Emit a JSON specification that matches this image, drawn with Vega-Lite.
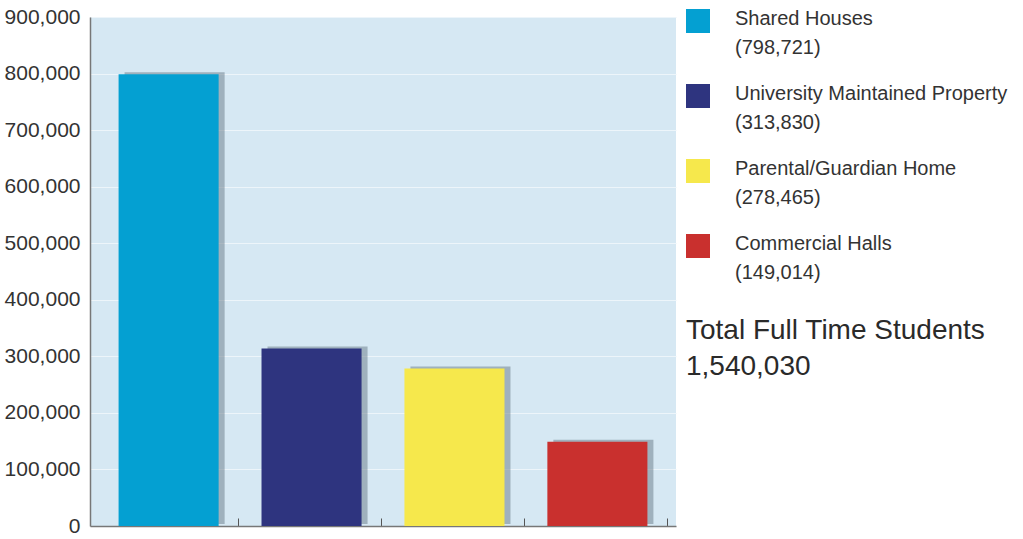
{
  "$schema": "https://vega.github.io/schema/vega-lite/v6.json",
  "width": 586,
  "height": 509,
  "padding": {"left": 4, "top": 6, "right": 0, "bottom": 0},
  "background": "white",
  "config": {
    "view": {"fill": "#D6E8F3", "stroke": null},
    "font": "Liberation Sans"
  },
  "data": {
    "values": [
      {"type": "Shared Houses", "students": 798721},
      {"type": "University Maintained Property", "students": 313830},
      {"type": "Parental/Guardian Home", "students": 278465},
      {"type": "Commercial Halls", "students": 149014}
    ]
  },
  "transform": [
    {"calculate": "datum.type + '|(' + format(datum.students, ',') + ')'", "as": "entry"}
  ],
  "encoding": {
    "x": {
      "field": "type",
      "type": "nominal",
      "sort": null,
      "scale": {"paddingInner": 0.3, "paddingOuter": 0.2},
      "axis": {
        "title": null,
        "labels": false,
        "ticks": true,
        "tickSize": -8,
        "tickColor": "#555",
        "bandPosition": 1.2,
        "domainColor": "#777",
        "domainWidth": 1.5,
        "grid": false
      }
    },
    "y": {
      "field": "students",
      "type": "quantitative",
      "scale": {"domain": [0, 900000]},
      "axis": {
        "title": null,
        "values": [0, 100000, 200000, 300000, 400000, 500000, 600000, 700000, 800000, 900000],
        "format": ",d",
        "labelOverlap": false,
        "ticks": false,
        "labelPadding": 10,
        "labelFontSize": 21,
        "labelColor": "#333333",
        "domainColor": "#777",
        "domainWidth": 1.5,
        "grid": true,
        "gridColor": "#EDF5FA",
        "gridWidth": 1.2
      }
    }
  },
  "layer": [
    {
      "mark": {"type": "bar", "color": "#73848f", "opacity": 0.55, "xOffset": 6, "yOffset": -2}
    },
    {
      "mark": {"type": "bar"},
      "encoding": {
        "color": {
          "field": "entry",
          "type": "nominal",
          "sort": null,
          "scale": {"range": ["#04A0D2", "#2E347F", "#F6E84C", "#C9302E"]},
          "legend": {
            "orient": "none",
            "legendX": 596,
            "legendY": -8,
            "title": ["Total Full Time Students", "1,540,030"],
            "titleOrient": "bottom",
            "titleFontSize": 28,
            "titleFontWeight": "normal",
            "titleColor": "#2a2a2a",
            "titleLimit": 400,
            "titleLineHeight": 36,
            "titlePadding": 34,
            "symbolType": "square",
            "symbolSize": 576,
            "symbolStrokeWidth": 0,
            "symbolOpacity": 1,
            "labelExpr": "split(datum.label, '|')",
            "labelFontSize": 20,
            "labelColor": "#333333",
            "labelLimit": 400,
            "labelOffset": 25,
            "labelBaseline": "alphabetic",
            "rowPadding": 26,
            "encode": {
              "labels": {"update": {"lineHeight": {"value": 29}, "dy": {"value": 4}}}
            }
          }
        }
      }
    }
  ]
}
